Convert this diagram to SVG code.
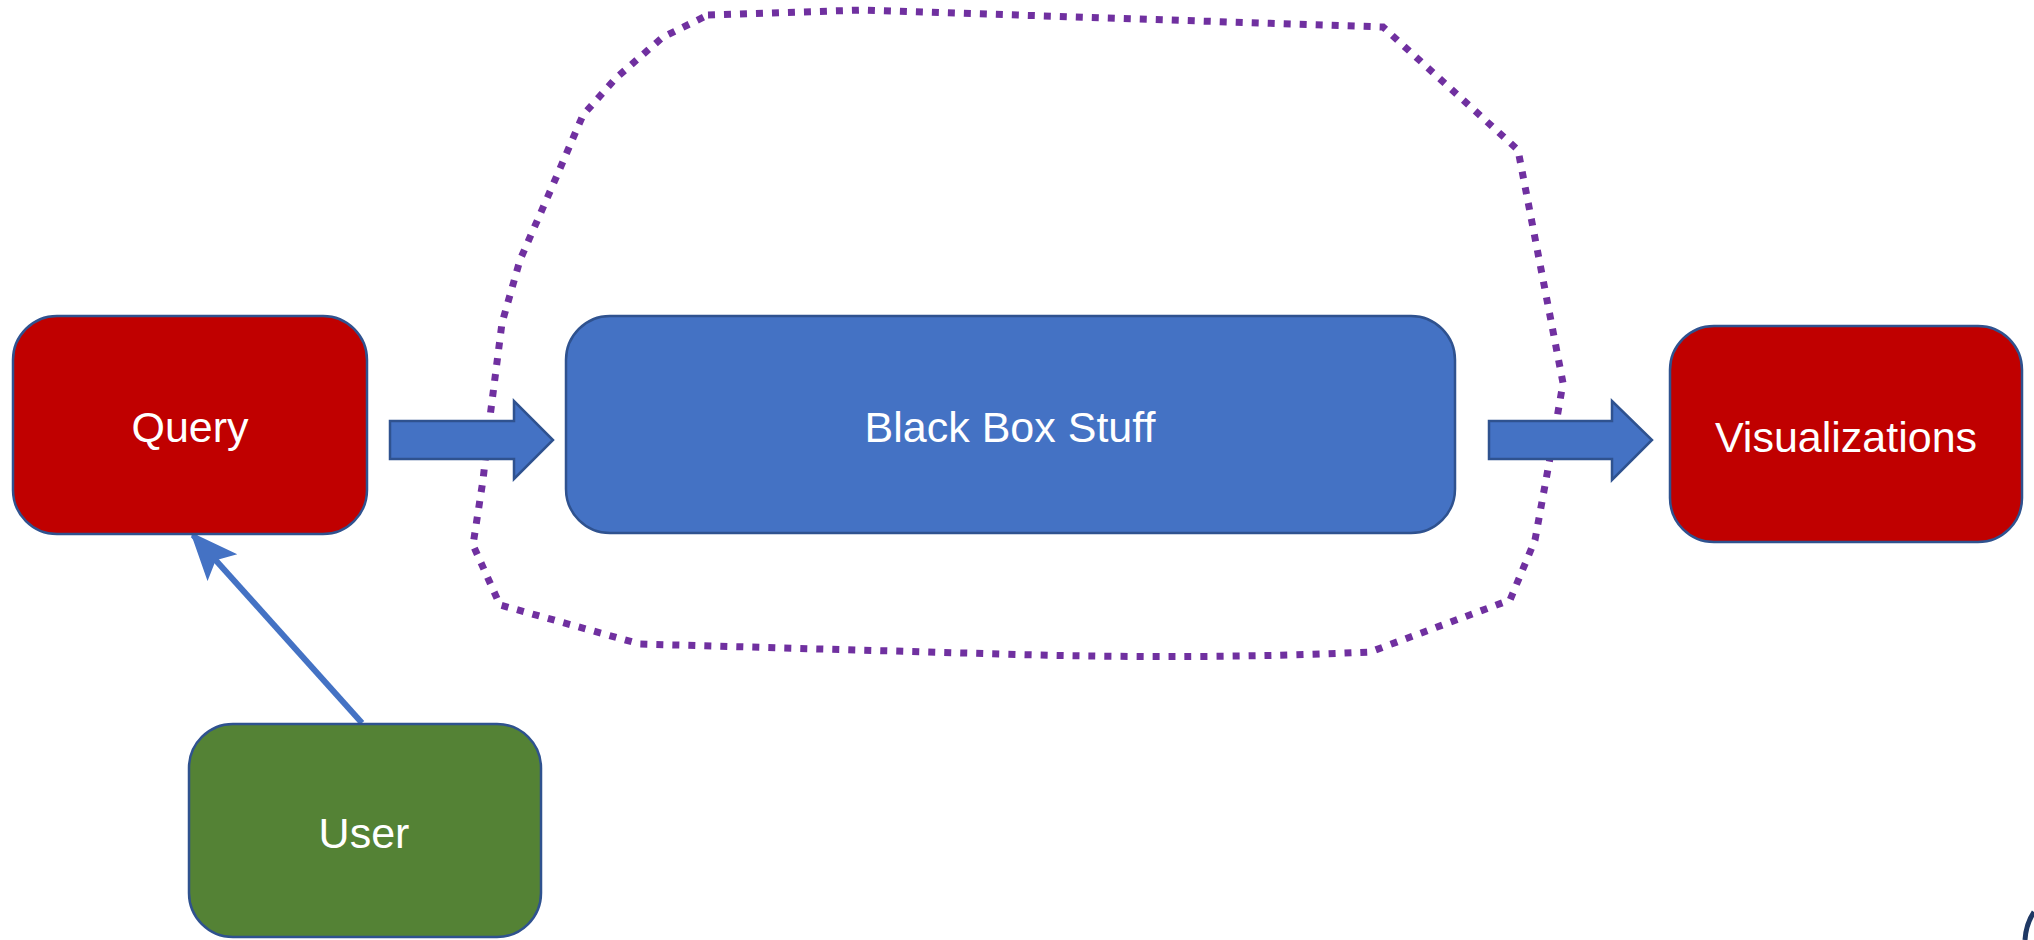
<svg xmlns="http://www.w3.org/2000/svg" width="2034" height="940" viewBox="0 0 2034 940">
<style>
.node{stroke:#2F528F;stroke-width:2.5}
.lbl{font-family:"Liberation Sans",Arial,sans-serif;font-size:43px;fill:#FFFFFF;text-anchor:middle}
.block{fill:#4472C4;stroke:#2F528F;stroke-width:2.5;stroke-linejoin:miter}
</style>
<defs>
<marker id="ah" viewBox="0 0 12 10" refX="11" refY="5" markerWidth="8" markerHeight="7" markerUnits="strokeWidth" orient="auto">
<path d="M0,0 L12,5 L0,10 L2.5,5 Z" fill="#4472C4"/>
</marker>
</defs>
<rect width="2034" height="940" fill="#FFFFFF"/>
<g id="boundary">
<path d="M708,15 L863,10 L1383,27 L1518,150 L1563,383 L1552,447 L1535,540 L1510,600 L1370,652 Q1200,660 1000,654 L640,644 L500,605 L473,545 L483,480 L490,417 L502,323 L520,260 L552,187 L583,115 L616,78 L663,37 Z" fill="none" stroke="#7030A0" stroke-width="7" stroke-dasharray="7 9"/>
</g>
<g id="connectors">
<path class="block" d="M390,421 L514,421 L514,401 L553,440 L514,479 L514,459 L390,459 Z"/>
<path class="block" d="M1489,421 L1612,421 L1612,401 L1652,440 L1612,480 L1612,459 L1489,459 Z"/>
<line x1="362" y1="723" x2="193" y2="535" stroke="#4472C4" stroke-width="6" marker-end="url(#ah)"/>
</g>
<g id="query">
<rect class="node" x="13" y="316" width="354" height="218" rx="44" fill="#C00000"/>
<text class="lbl" x="190" y="442">Query</text>
</g>
<g id="blackbox">
<rect class="node" x="566" y="316" width="889" height="217" rx="44" fill="#4472C4"/>
<text class="lbl" x="1010" y="442">Black Box Stuff</text>
</g>
<g id="visualizations">
<rect class="node" x="1670" y="326" width="352" height="216" rx="44" fill="#C00000"/>
<text class="lbl" x="1846" y="452">Visualizations</text>
</g>
<g id="user">
<rect class="node" x="189" y="724" width="352" height="213" rx="44" fill="#548235"/>
<text class="lbl" x="364" y="848">User</text>
</g>
<g id="edge-fragment">
<path d="M2034,912 Q2026,924 2025,940" fill="none" stroke="#1F3864" stroke-width="5"/>
</g>
</svg>
